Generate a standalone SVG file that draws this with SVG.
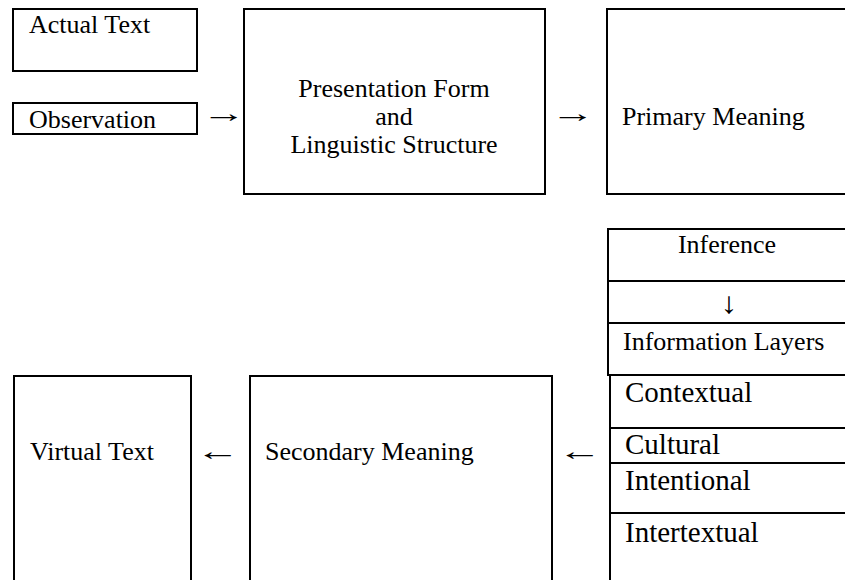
<svg xmlns="http://www.w3.org/2000/svg" width="845" height="580" viewBox="0 0 845 580">
<style>
  .box { fill: #ffffff; stroke: #000000; stroke-width: 2; }
  .ln { stroke: #000000; stroke-width: 2; fill: none; }
  .t { font-family: "Liberation Serif", "Times New Roman", serif; font-size: 26px; fill: #000000; }
  .tl { font-family: "Liberation Serif", "Times New Roman", serif; font-size: 29px; fill: #000000; }
  .c { text-anchor: middle; }
  .arr { font-family: "Liberation Serif", "DejaVu Serif", serif; font-size: 26px; fill: #000000; }
</style>
<rect x="0" y="0" width="845" height="580" fill="#ffffff"/>

<g id="actual-text">
  <rect class="box" x="13" y="9" width="184" height="62"/>
  <text class="t" x="29" y="33">Actual Text</text>
</g>

<g id="observation">
  <rect class="box" x="13" y="103" width="184" height="31"/>
  <text class="t" x="29" y="128">Observation</text>
</g>

<g id="presentation-form">
  <rect class="box" x="244" y="9" width="301" height="185"/>
  <text class="t c" x="394" y="97">Presentation Form</text>
  <text class="t c" x="394" y="125">and</text>
  <text class="t c" x="394" y="153">Linguistic Structure</text>
</g>

<g id="primary-meaning">
  <rect class="box" x="607" y="9" width="250" height="185"/>
  <text class="t" x="622" y="125">Primary Meaning</text>
</g>

<g id="inference">
  <rect class="box" x="608" y="229" width="250" height="146"/>
  <line class="ln" x1="608" y1="281" x2="850" y2="281"/>
  <line class="ln" x1="608" y1="323" x2="850" y2="323"/>
  <text class="t c" x="727" y="253">Inference</text>
  <text class="arr c" transform="translate(729,313) scale(1.3,1.15)">↓</text>
  <text class="t" x="623" y="350">Information Layers</text>
</g>

<g id="layers">
  <rect class="box" x="610" y="375" width="250" height="215"/>
  <line class="ln" x1="610" y1="428" x2="850" y2="428"/>
  <line class="ln" x1="610" y1="463" x2="850" y2="463"/>
  <line class="ln" x1="610" y1="513" x2="850" y2="513"/>
  <text class="tl" x="625" y="402">Contextual</text>
  <text class="tl" x="625" y="454">Cultural</text>
  <text class="tl" x="625" y="490">Intentional</text>
  <text class="tl" x="625" y="542">Intertextual</text>
</g>

<g id="secondary-meaning">
  <rect class="box" x="250" y="376" width="302" height="214"/>
  <text class="t" x="265" y="460">Secondary Meaning</text>
</g>

<g id="virtual-text">
  <rect class="box" x="14" y="376" width="177" height="214"/>
  <text class="t" x="30" y="460">Virtual Text</text>
</g>

<g id="connectors">
  <text class="arr" transform="translate(202,122) scale(1.7,1)">→</text>
  <text class="arr" transform="translate(551,122) scale(1.7,1)">→</text>
  <text class="arr" transform="translate(196,460) scale(1.7,1)">←</text>
  <text class="arr" transform="translate(558,460) scale(1.7,1)">←</text>
</g>
</svg>
